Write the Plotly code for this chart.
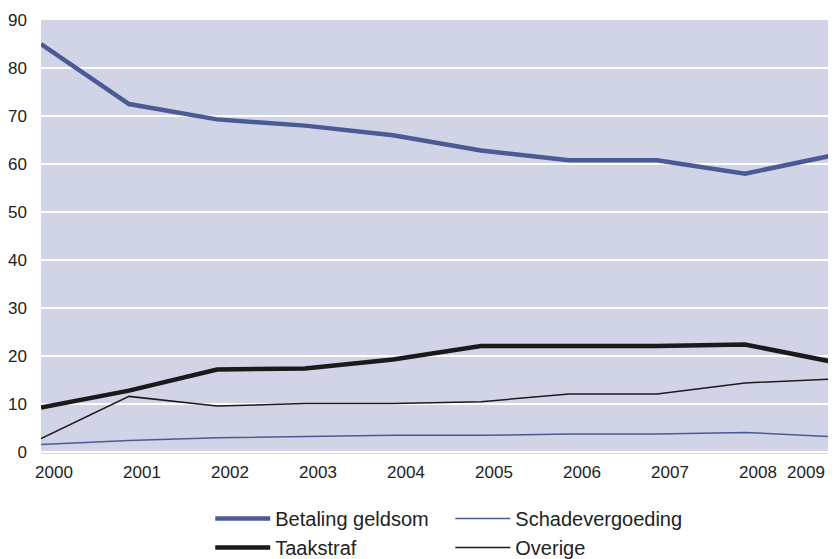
"""Line chart: afdoeningen 2000-2009 (percentages)."""
import plotly.graph_objects as go

years = [2000, 2001, 2002, 2003, 2004, 2005, 2006, 2007, 2008, 2009]
betaling_geldsom = [85.0, 72.5, 69.3, 68.0, 66.0, 62.8, 60.8, 60.8, 58.0, 61.8]
schadevergoeding = [1.6, 2.4, 3.0, 3.3, 3.5, 3.5, 3.75, 3.75, 4.1, 3.2]
taakstraf = [9.3, 12.8, 17.2, 17.4, 19.3, 22.1, 22.1, 22.1, 22.4, 18.8]
overige = [2.8, 11.6, 9.6, 10.1, 10.1, 10.5, 12.1, 12.1, 14.4, 15.2]
y_ticks = [0, 10, 20, 30, 40, 50, 60, 70, 80, 90]

BLUE = "#4b5a95"
BLACK = "#1a1a1a"
FONT = "Liberation Sans, Arial, sans-serif"

fig = go.Figure()
fig.add_trace(go.Scatter(x=years, y=betaling_geldsom, mode="lines", name="Betaling geldsom",
                         line=dict(color=BLUE, width=4.5), legend="legend"))
fig.add_trace(go.Scatter(x=years, y=taakstraf, mode="lines", name="Taakstraf",
                         line=dict(color=BLACK, width=4.5), legend="legend"))
fig.add_trace(go.Scatter(x=years, y=schadevergoeding, mode="lines", name="Schadevergoeding",
                         line=dict(color=BLUE, width=1.5), legend="legend2"))
# one series on the overlay axis so that axis gets drawn (same mapping via matches)
fig.add_trace(go.Scatter(x=years, y=overige, mode="lines", name="Overige", xaxis="x2",
                         line=dict(color=BLACK, width=1.5), legend="legend2"))

# container-referenced so the legends don't push the bottom margin
legend_common = dict(
    orientation="v", xanchor="left", yanchor="top", yref="container", y=0.109,
    font=dict(family=FONT, size=20, color="#222"),
    bgcolor="rgba(0,0,0,0)", itemwidth=55, tracegroupgap=0,
)

x_common = dict(range=[years[0], years[-1]], showgrid=False, zeroline=False,
                showline=False, ticks="", ticklabelstandoff=6, automargin=False,
                ticklabeloverflow="allow")

# page body keeps its default 8px margin, so the figure is 8px smaller
fig.update_layout(
    width=828, height=551,
    margin=dict(l=33, r=3, t=12, b=105),
    paper_bgcolor="white",
    plot_bgcolor="#d1d4e6",
    font=dict(family=FONT, size=17, color="#222"),
    showlegend=True,
    legend=dict(x=0.2137, **legend_common),
    legend2=dict(x=0.5168, **legend_common),
    # labels sit slightly right of their points; the last one is pulled inside
    xaxis=dict(tickvals=years[:-1], ticktext=[str(y) for y in years[:-1]],
               ticklabelshift=13, **x_common),
    xaxis2=dict(overlaying="x", matches="x", side="bottom", tickvals=years[-1:],
                ticktext=[str(years[-1])], ticklabelshift=-27, **x_common),
    yaxis=dict(
        range=[-0.4, 90], tickvals=y_ticks,
        showgrid=True, gridcolor="white", gridwidth=2, zeroline=False,
        showline=False, ticks="", ticklabelstandoff=13, automargin=False,
    ),
)

fig.write_html("out.html")
